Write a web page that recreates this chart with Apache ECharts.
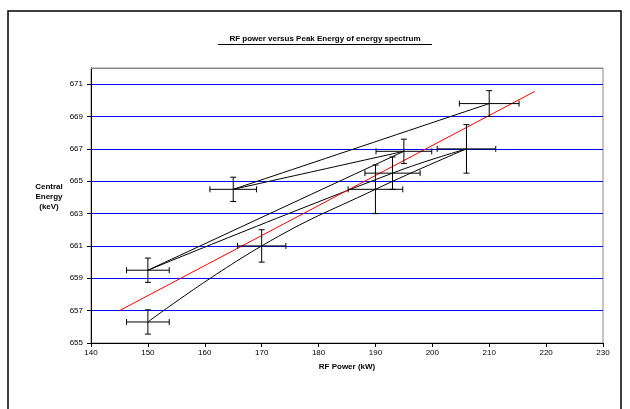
<!DOCTYPE html>
<html lang="en">
<head>
    <meta http-equiv="content-type" content="text/html;charset=UTF-8">
    <title>RF power versus Peak Energy</title>
    <script src="https://cdn.jsdelivr.net/npm/echarts@6/dist/echarts.min.js"></script>
    <style>
        html, body { margin: 0; padding: 0; background: #fff; }
        #chart { width: 630px; height: 409px; }
    </style>
</head>
<body>
    <div id="chart"></div>
<script>
    // measured points, in the order the smoothed line joins them
    var power = [150, 170, 190, 206, 193, 150, 195, 165, 210];
    var energy = [656.3, 661.0, 664.5, 667.0, 665.5, 659.5, 666.85, 664.5, 669.8];
    // error bars (+/-)
    var powerErr = [3.75, 4.25, 4.8, 5.15, 4.85, 3.75, 4.9, 4.1, 5.25];
    var energyErr = [0.75, 1.0, 1.5, 1.5, 1.0, 0.75, 0.75, 0.75, 0.8];
    // linear trend line ends
    var trendPower = [145, 218];
    var trendEnergy = [657.0, 670.55];

    var titleText = 'RF power versus Peak Energy of energy spectrum';
    var xName = 'RF Power (kW)';
    var yName = 'Central\nEnergy\n(keV)';

    var myChart = echarts.init(document.getElementById('chart'));

    var pts = [], bars = [], trend = [];
    for (var i = 0; i < power.length; i++) {
        pts.push([power[i], energy[i]]);
        bars.push([power[i], energy[i], powerErr[i], energyErr[i]]);
    }
    for (var j = 0; j < trendPower.length; j++) {
        trend.push([trendPower[j], trendEnergy[j]]);
    }

    var font = 'Arial, "Liberation Sans", sans-serif';

    var option = {
        backgroundColor: '#fff',
        animation: false,
        grid: {
            left: 91, right: 27, top: 68, bottom: 66,
            show: true,
            backgroundColor: '#fff',
            borderColor: '#888',
            borderWidth: 1
        },
        graphic: [
            {
                type: 'rect', silent: true, z: 100,
                shape: { x: 8, y: 11, width: 613, height: 420 },
                style: { fill: null, stroke: '#000', lineWidth: 1.5 }
            },
            {
                // top edge of the plot area is grey, not a blue grid line
                type: 'line', silent: true, z: 100,
                shape: { x1: 91, y1: 68.5, x2: 603, y2: 68.5 },
                style: { stroke: '#888', lineWidth: 1 }
            },
            {
                type: 'text', silent: true,
                x: 325, y: 39,
                style: {
                    text: titleText, fill: '#000', align: 'center', verticalAlign: 'middle',
                    font: 'bold 8px ' + font
                }
            },
            {
                type: 'line', silent: true,
                shape: { x1: 218, y1: 44.5, x2: 432, y2: 44.5 },
                style: { stroke: '#000', lineWidth: 1 }
            },
            {
                type: 'text', silent: true,
                x: 49, y: 197,
                style: {
                    text: yName, fill: '#000', align: 'center', verticalAlign: 'middle',
                    font: 'bold 8px ' + font, lineHeight: 10
                }
            }
        ],
        xAxis: {
            type: 'value',
            min: 140, max: 230, interval: 10,
            name: xName,
            nameLocation: 'middle',
            nameGap: 20,
            nameTextStyle: { color: '#000', fontSize: 8, fontWeight: 'bold', fontFamily: font },
            axisLine: { lineStyle: { color: '#000', width: 1 } },
            axisTick: { show: true, inside: false, length: 4, lineStyle: { color: '#000' } },
            axisLabel: { color: '#000', fontSize: 8, fontFamily: font, margin: 6 },
            splitLine: { show: false }
        },
        yAxis: {
            type: 'value',
            min: 655, max: 672, interval: 2,
            axisLine: { show: true, lineStyle: { color: '#000', width: 1 } },
            axisTick: { show: true, inside: false, length: 4, lineStyle: { color: '#000' } },
            axisLabel: { color: '#000', fontSize: 8, fontFamily: font, margin: 8, showMaxLabel: false },
            splitLine: { show: true, lineStyle: { color: '#0000ff', width: 1 } }
        },
        series: [
            {
                type: 'line',
                data: pts,
                smooth: 0.45,
                symbol: 'none',
                lineStyle: { color: '#000', width: 1 },
                z: 3
            },
            {
                type: 'line',
                data: trend,
                symbol: 'none',
                lineStyle: { color: '#ff0000', width: 1 },
                z: 4
            },
            {
                type: 'custom',
                data: bars,
                z: 5,
                renderItem: function (params, api) {
                    var x = api.value(0), y = api.value(1);
                    var ex = api.value(2), ey = api.value(3);
                    var l = api.coord([x - ex, y]);
                    var r = api.coord([x + ex, y]);
                    var t = api.coord([x, y + ey]);
                    var b = api.coord([x, y - ey]);
                    var cap = 3;
                    var st = { stroke: '#000', lineWidth: 1 };
                    var mk = function (x1, y1, x2, y2) {
                        return { type: 'line', shape: { x1: x1, y1: y1, x2: x2, y2: y2 }, style: st };
                    };
                    return {
                        type: 'group',
                        children: [
                            mk(l[0], l[1], r[0], r[1]),
                            mk(l[0], l[1] - cap, l[0], l[1] + cap),
                            mk(r[0], r[1] - cap, r[0], r[1] + cap),
                            mk(t[0], t[1], b[0], b[1]),
                            mk(t[0] - cap, t[1], t[0] + cap, t[1]),
                            mk(b[0] - cap, b[1], b[0] + cap, b[1])
                        ]
                    };
                }
            }
        ]
    };
    myChart.setOption(option, true);
</script>
</body>
</html>
